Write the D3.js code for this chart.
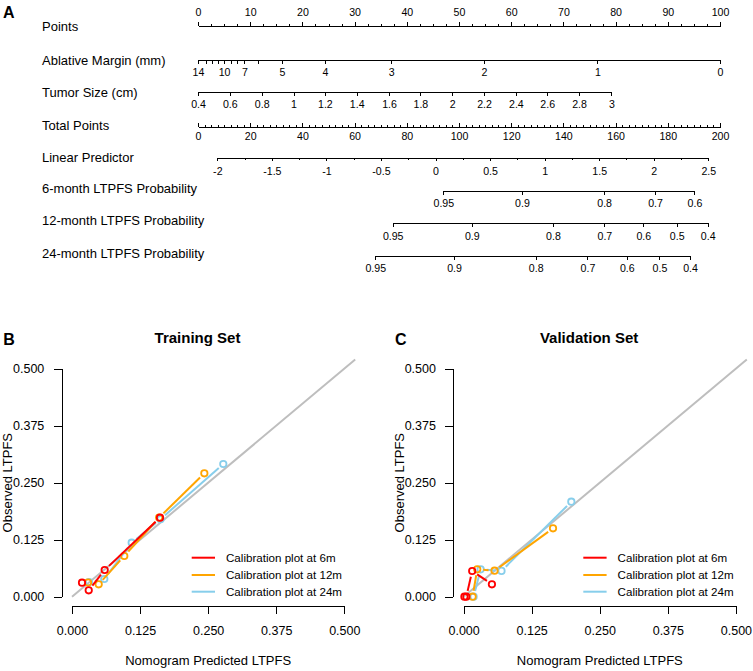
<!DOCTYPE html>
<html><head><meta charset="utf-8">
<script src="https://cdn.jsdelivr.net/npm/d3@7"></script>
<style>
body{margin:0;background:#fff}
svg{display:block;font-family:"Liberation Sans",Arial,Helvetica,sans-serif}
.nomo text{font-size:10.6px;font-family:"Liberation Sans",Arial,Helvetica,sans-serif}
.cal text{font-size:12.5px;font-family:"Liberation Sans",Arial,Helvetica,sans-serif}
</style>
</head><body>
<svg id="chart" width="753" height="671"></svg>
<script>
// ---------------- Nomogram data ----------------
const rowLabels = ["Points","Ablative Margin (mm)","Tumor Size (cm)","Total Points","Linear Predictor",
  "6-month LTPFS Probability","12-month LTPFS Probability","24-month LTPFS Probability"];

const pointsMajor = [0,10,20,30,40,50,60,70,80,90,100];
const totalPointsMajor = [0,20,40,60,80,100,120,140,160,180,200];

const marginValues = [14,13,12,11,10,9,8,7,6,5,4,3,2,1,0];
const marginPoints = [0,1.5,2.7,3.9,5.0,6.3,7.5,8.9,11.4,16.1,24.3,37.0,54.8,76.5,100];
const marginLabeled = [14,10,7,5,4,3,2,1,0];

const tumorValues = ["0.4","0.6","0.8","1","1.2","1.4","1.6","1.8","2","2.2","2.4","2.6","2.8","3"];
const tumorPoints = [0,6.1,12.2,18.3,24.3,30.4,36.6,42.6,48.7,54.8,60.9,66.9,73.0,79.2];

const lpMajor = [-2,-1.5,-1,-0.5,0,0.5,1,1.5,2,2.5];
const lpEndsTotalPoints = [7.4,195.5];   // total points at LP = -2 and LP = 2.5

const prob6Labels = ["0.95","0.9","0.8","0.7","0.6"];
const prob6TotalPoints = [94.0,124.1,155.6,175.1,190.2];
const prob12Labels = ["0.95","0.9","0.8","0.7","0.6","0.5","0.4"];
const prob12TotalPoints = [74.6,104.9,136.0,155.7,170.6,183.4,195.3];
const prob24Labels = ["0.95","0.9","0.8","0.7","0.6","0.5","0.4"];
const prob24TotalPoints = [67.9,98.1,129.4,149.2,164.3,176.8,188.5];

// ---------------- Calibration data ----------------
const calTicks = [0,0.125,0.25,0.375,0.5];
const seriesNames = ["Calibration plot at 6m","Calibration plot at 12m","Calibration plot at 24m"];
const seriesColors = ["#FF0000","#FFA500","#87CEEB"];

const train6m  = [[0.0184,0.0307],[0.0307,0.014],[0.060,0.0586],[0.1616,0.1732]];
const train12m = [[0.0294,0.0311],[0.049,0.0272],[0.096,0.0893],[0.160,0.1735],[0.243,0.2706]];
const train24m = [[0.0312,0.0322],[0.0593,0.0388],[0.1096,0.1184],[0.1625,0.170],[0.2778,0.291]];

const valid6m  = [[0.0015,0],[0.005,0],[0.0158,0.0564],[0.052,0.0272]];
const valid12m = [[0.0165,0],[0.025,0.0601],[0.0568,0.057],[0.1642,0.150]];
const valid24m = [[0.0184,0],[0.0313,0.060],[0.0696,0.0566],[0.1978,0.2083]];

// ---------------- Drawing ----------------
const svg = d3.select("#chart");

// Panel A
svg.append("text").attr("x",3).attr("y",18).attr("font-size",16).attr("font-weight","bold").text("A");

const ptsX = d3.scaleLinear().domain([0,100]).range([198,720]);
const totX = d3.scaleLinear().domain([0,200]).range([198,720]);

const rowY = [25.5,59.5,91.5,126.5,157.5,190.5,222.5,255.5];
const labelBaseline = [30.5,65.3,96.7,130,161.7,192.5,224.7,257.7];

svg.selectAll("text.rowlab").data(rowLabels).join("text")
  .attr("class","rowlab").attr("x",42).attr("y",(d,i)=>labelBaseline[i])
  .attr("font-size",13).attr("fill","#000").text(d=>d);

const nomo = svg.append("g").attr("class","nomo");
function styleAxis(g){
  g.attr("color","#000");
  g.selectAll("line").attr("shape-rendering","crispEdges");
  g.selectAll(".domain").attr("shape-rendering","crispEdges");
}

// Points row (ticks up, labels above)
{
  const g = nomo.append("g").attr("transform",`translate(0,${rowY[0]})`);
  g.append("g").call(d3.axisTop(ptsX).tickValues(d3.range(0,100.01,2.5)).tickFormat("").tickSizeInner(2).tickSizeOuter(0))
    .call(a=>a.select(".domain").remove());
  g.append("g").call(d3.axisTop(ptsX).tickValues(pointsMajor).tickFormat(d=>String(d)).tickSizeInner(4).tickSizeOuter(0).tickPadding(5.5));
  styleAxis(g);
}
// Ablative margin
{
  const g = nomo.append("g").attr("transform",`translate(0,${rowY[1]})`)
    .call(d3.axisBottom(ptsX).tickValues(marginPoints)
      .tickFormat((d,i)=> marginLabeled.includes(marginValues[i]) ? String(marginValues[i]) : "")
      .tickSizeInner(4).tickSizeOuter(0).tickPadding(5));
  styleAxis(g);
}
// Tumor size
{
  const sc = d3.scaleLinear().domain([tumorPoints[0],tumorPoints[tumorPoints.length-1]])
    .range([ptsX(tumorPoints[0]),ptsX(tumorPoints[tumorPoints.length-1])]);
  const g = nomo.append("g").attr("transform",`translate(0,${rowY[2]})`)
    .call(d3.axisBottom(sc).tickValues(tumorPoints).tickFormat((d,i)=>tumorValues[i])
      .tickSizeInner(4).tickSizeOuter(0).tickPadding(4.5));
  styleAxis(g);
}
// Total points (ticks up, labels below)
{
  const g = nomo.append("g").attr("transform",`translate(0,${rowY[3]})`);
  g.append("g").call(d3.axisBottom(totX).tickValues(d3.range(0,200.01,2.5)).tickFormat("").tickSizeInner(-2).tickSizeOuter(0))
    .call(a=>a.select(".domain").remove());
  g.append("g").call(d3.axisBottom(totX).tickValues(totalPointsMajor).tickFormat(d=>String(d)).tickSizeInner(-4).tickSizeOuter(0).tickPadding(6));
  styleAxis(g);
}
// Linear predictor
{
  const sc = d3.scaleLinear().domain([lpMajor[0],lpMajor[lpMajor.length-1]])
    .range([totX(lpEndsTotalPoints[0]),totX(lpEndsTotalPoints[1])]);
  const g = nomo.append("g").attr("transform",`translate(0,${rowY[4]})`);
  g.append("g").call(d3.axisBottom(sc).tickValues(d3.range(-2,2.501,0.25)).tickFormat("").tickSizeInner(2).tickSizeOuter(0))
    .call(a=>a.select(".domain").remove());
  g.append("g").call(d3.axisBottom(sc).tickValues(lpMajor).tickFormat(d=>String(d)).tickSizeInner(3.5).tickSizeOuter(0).tickPadding(6.5));
  styleAxis(g);
}
// Probability rows
[[prob6Labels,prob6TotalPoints,4.7],[prob12Labels,prob12TotalPoints,6],[prob24Labels,prob24TotalPoints,5]].forEach((r,k)=>{
  const [labs,tp,pad] = r;
  const sc = d3.scaleLinear().domain([tp[0],tp[tp.length-1]]).range([totX(tp[0]),totX(tp[tp.length-1])]);
  const g = nomo.append("g").attr("transform",`translate(0,${rowY[5+k]})`)
    .call(d3.axisBottom(sc).tickValues(tp).tickFormat((d,i)=>labs[i]).tickSizeInner(4).tickSizeOuter(0).tickPadding(pad));
  styleAxis(g);
});

// ---------------- Calibration panels ----------------
function drawPanel(dx, letter, title, s6, s12, s24){
  const x = d3.scaleLinear().domain([0,0.5]).range([72+dx,344.3+dx]);
  const y = d3.scaleLinear().domain([0,0.5]).range([596.7,368.7]);
  const g = svg.append("g");

  g.append("text").attr("x",3.3+dx).attr("y",345).attr("font-size",16).attr("font-weight","bold").text(letter);
  g.append("text").attr("x",197.5+dx).attr("y",342.5).attr("text-anchor","middle")
    .attr("font-size",15).attr("font-weight","bold").text(title);

  // axes
  const ya = g.append("g").attr("class","cal").attr("transform",`translate(${61.7+dx},0)`)
    .call(d3.axisLeft(y).tickValues(calTicks).tickFormat(d3.format(".3f")).tickSizeInner(8).tickSizeOuter(0).tickPadding(9.4));
  styleAxis(ya);
  const xa = g.append("g").attr("class","cal").attr("transform",`translate(0,606)`)
    .call(d3.axisBottom(x).tickValues(calTicks).tickFormat(d3.format(".3f")).tickSizeInner(8).tickSizeOuter(0).tickPadding(12));
  styleAxis(xa);

  g.append("text").attr("x",208.2+dx).attr("y",665).attr("text-anchor","middle").attr("font-size",13)
    .text("Nomogram Predicted LTPFS");
  g.append("text").attr("transform",`translate(${12.3+dx},482.7) rotate(-90)`).attr("text-anchor","middle")
    .attr("font-size",13).text("Observed LTPFS");

  // reference diagonal
  g.append("line").attr("x1",x(0)).attr("y1",y(0)).attr("x2",x(0.52)).attr("y2",y(0.52))
    .attr("stroke","#BEBEBE").attr("stroke-width",2);

  const gap = 6, r = 3.2;
  const draw = (data,color)=>{
    const sg = g.append("g");
    for(let i=0;i<data.length-1;i++){
      const x1=x(data[i][0]), y1=y(data[i][1]), x2=x(data[i+1][0]), y2=y(data[i+1][1]);
      const dd=Math.hypot(x2-x1,y2-y1);
      if(dd>2*gap){
        const ux=(x2-x1)/dd, uy=(y2-y1)/dd;
        sg.append("line").attr("x1",x1+ux*gap).attr("y1",y1+uy*gap).attr("x2",x2-ux*gap).attr("y2",y2-uy*gap)
          .attr("stroke",color).attr("stroke-width",2);
      }
    }
    sg.selectAll("circle").data(data).join("circle")
      .attr("cx",d=>x(d[0])).attr("cy",d=>y(d[1])).attr("r",r)
      .attr("fill","none").attr("stroke",color).attr("stroke-width",1.8);
  };
  draw(s24,seriesColors[2]);
  draw(s12,seriesColors[1]);
  draw(s6,seriesColors[0]);

  // legend
  const ly = [557.7,575,591.7];
  seriesNames.forEach((n,i)=>{
    g.append("line").attr("x1",191.7+dx).attr("x2",215+dx).attr("y1",ly[i]).attr("y2",ly[i])
      .attr("stroke",seriesColors[i]).attr("stroke-width",2);
    g.append("text").attr("x",226+dx).attr("y",ly[i]+4).attr("font-size",11.6).text(n);
  });
}
drawPanel(0,"B","Training Set",train6m,train12m,train24m);
drawPanel(391.6,"C","Validation Set",valid6m,valid12m,valid24m);
</script>
</body></html>
